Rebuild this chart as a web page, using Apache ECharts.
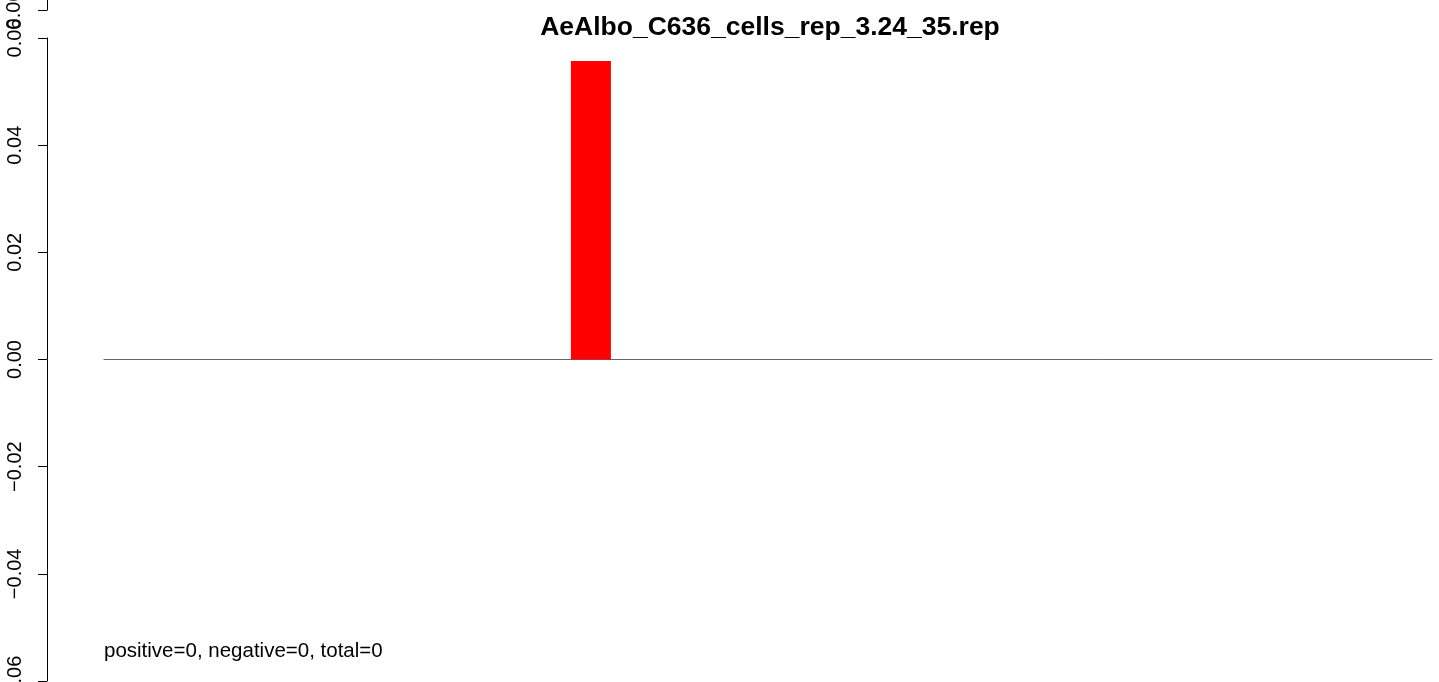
<!DOCTYPE html>
<html>
<head>
<meta charset="utf-8">
<script src="https://cdn.jsdelivr.net/npm/echarts@6/dist/echarts.min.js"></script>
<style>
html,body{margin:0;padding:0;background:#fff;}
#main{width:1439px;height:682px;}
</style>
</head>
<body>
<div id="main"></div>
<script>
var chartTitle = 'AeAlbo_C636_cells_rep_3.24_35.rep';
var footNote = 'positive=0, negative=0, total=0';
var categories = ['1','2','3','4','5','6','7','8','9','10','11','12','13','14','15'];
var values = [0,0,0,0,0,0.0557,0,0,0,0,0,0,0,0,0];
var yTicks = [-0.06, -0.04, -0.02, 0, 0.02, 0.04, 0.06];
var strayTickLabel = '0.06';

function fmt(v){
  return (v < 0 ? '\u2212' : '') + Math.abs(v).toFixed(2);
}

var chart = echarts.init(document.getElementById('main'), null, {renderer:'canvas'});
chart.setOption({
  animation: false,
  backgroundColor: '#ffffff',
  textStyle: {fontFamily: 'Liberation Sans, Arial, sans-serif'},
  title: [{
    text: chartTitle,
    left: 770,
    textAlign: 'center',
    top: 14,
    padding: 0,
    textStyle: {fontSize: 26.5, fontWeight: 'bold', color: '#000', fontFamily: 'Liberation Sans, Arial, sans-serif'}
  },{
    text: footNote,
    left: 104,
    top: 641,
    padding: 0,
    textStyle: {fontSize: 20.5, fontWeight: 'normal', color: '#000', fontFamily: 'Liberation Sans, Arial, sans-serif'}
  }],
  grid: {left: 104, right: 7, top: 38, bottom: 1, containLabel: false, outerBoundsMode: 'none'},
  xAxis: {
    type: 'category',
    data: categories,
    axisLine: {show: true, onZero: true, lineStyle: {color: '#666', width: 1}},
    axisTick: {show: false},
    axisLabel: {show: false},
    splitLine: {show: false}
  },
  yAxis: {
    type: 'value',
    min: yTicks[0],
    max: yTicks[yTicks.length-1],
    interval: 0.02,
    offset: 57,
    position: 'left',
    axisLine: {show: true, lineStyle: {color: '#000', width: 1}},
    axisTick: {show: true, length: 9, lineStyle: {color: '#000', width: 1}},
    axisLabel: {
      show: true, rotate: 90, margin: 22, fontSize: 20, color: '#000',
      showMinLabel: true, showMaxLabel: true,
      fontFamily: 'Liberation Sans, Arial, sans-serif',
      formatter: fmt
    },
    splitLine: {show: false}
  },
  series: [{
    type: 'bar',
    data: values,
    barWidth: 40,
    itemStyle: {color: '#ff0000'},
    silent: true
  }],
  graphic: [
    {type:'line', shape:{x1:47.5, y1:0, x2:47.5, y2:10}, style:{stroke:'#000', lineWidth:1}},
    {type:'line', shape:{x1:38, y1:10.5, x2:47.5, y2:10.5}, style:{stroke:'#000', lineWidth:1}},
    {type:'text', x:14, y:10, rotation: Math.PI/2,
     style:{text: strayTickLabel, fontSize:20, fill:'#000', align:'center', verticalAlign:'middle',
            fontFamily:'Liberation Sans, Arial, sans-serif'}}
  ]
});
</script>
</body>
</html>
